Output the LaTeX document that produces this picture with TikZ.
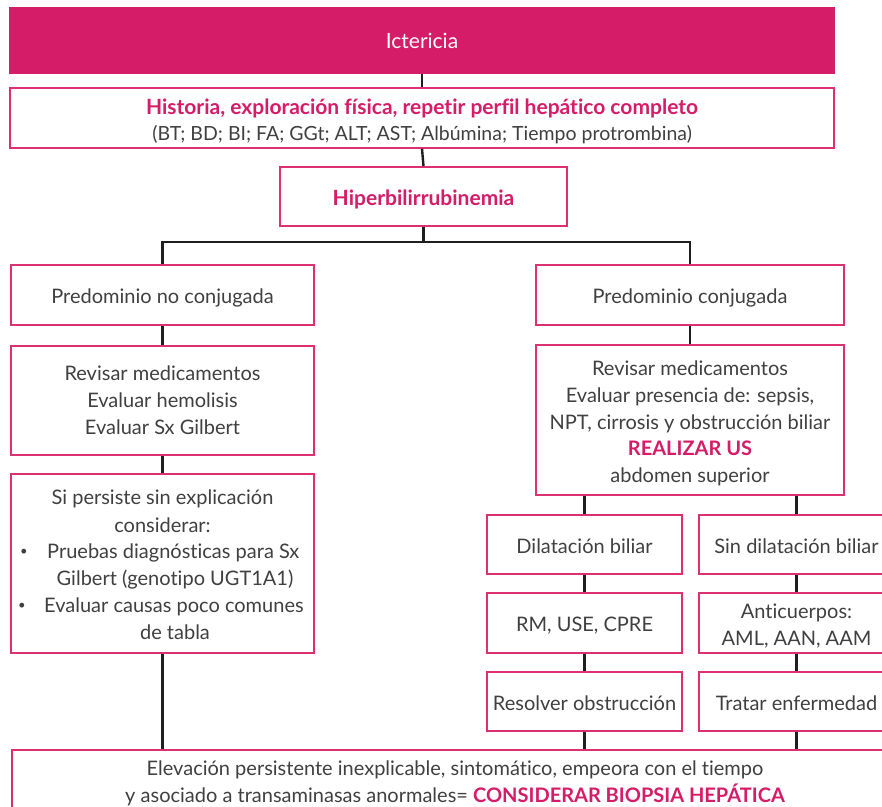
\documentclass[tikz,border=0pt]{standalone}
\usepackage{fontspec}
\setmainfont{Lato}[Ligatures={NoCommon,NoDiscretionary}]
\definecolor{mag}{HTML}{D51C68}
\definecolor{pinkb}{HTML}{DE2F73}
\definecolor{txt}{HTML}{404040}
\begin{document}
\begin{tikzpicture}[x=1pt,y=-1pt,
  box/.style={draw=pinkb, line width=1.6pt, fill=white, text=txt, align=center, inner sep=0pt,
    font=\fontsize{20}{26.8}\selectfont},
  sl/.style={text height=17pt, text depth=0pt},
  lbl/.style={text=txt, inner sep=0pt, align=center, font=\fontsize{20}{26.8}\selectfont},
  bul/.style={text=txt, inner sep=0pt, font=\fontsize{13}{14}\selectfont},
  conn/.style={draw=black!88, line width=2.4pt}]
\useasboundingbox (0,0) rectangle (882,806);
\fill[white] (0,0) rectangle (882,806);
\clip (0,0) rectangle (882,806);
% nodes
\node[box, fill=mag, draw=mag, text=white, minimum width=824, minimum height=65, font=\fontsize{21}{26}\selectfont] (ict) at (422,40.5) {Ictericia};
\node[box, minimum width=824, minimum height=60] (hist) at (422,118) {};
\node[lbl] (histt) at ([yshift=-3pt]hist.center)
  {{\color{mag}\fontsize{21}{26}\selectfont\bfseries Historia, exploración física, repetir perfil hepático completo}\\[-1pt]
   {\fontsize{19.5}{24}\selectfont(BT; BD; BI; FA; GGt; ALT; AST; Albúmina; Tiempo protrombina)}};
\node[box, sl, minimum width=287, minimum height=59, text=mag, font=\fontsize{21}{26}\selectfont\bfseries] (hiper) at (423.5,196.5) {Hiperbilirrubinemia};
\node[box, sl, minimum width=303, minimum height=60] (pnc) at (162.5,295) {Predominio no conjugada};
\node[box, sl, minimum width=308, minimum height=60] (pc) at (690,295) {Predominio conjugada};
\node[box, minimum width=303, minimum height=109] (rev1) at (162.5,400.5) {Revisar medicamentos\\Evaluar hemolisis\\Evaluar Sx Gilbert};
\node[box, minimum width=308, minimum height=150] (rev2) at (690,420) {};
\node[lbl] (rev2t) at ([yshift=-3.5pt]rev2.center)
  {Revisar medicamentos\\Evaluar presencia de: sepsis,\\NPT, cirrosis y obstrucción biliar\\{\color{mag}\bfseries REALIZAR US}\\abdomen superior};
\node[box, minimum width=303, minimum height=179] (si) at (162.5,563.5) {};
\node[lbl] (s1) at (162.5,498.5) {Si persiste sin explicación};
\node[lbl] (s2) at (162.5,525.5) {considerar:};
\node[bul] (b1) at (24,552) {•};
\node[lbl, anchor=west] (s3) at (47,552.5) {Pruebas diagnósticas para Sx};
\node[lbl] (s4) at (175,579.5) {Gilbert (genotipo UGT1A1)};
\node[bul] (b2) at (22,606) {•};
\node[lbl, anchor=west] (s5) at (44,606.5) {Evaluar causas poco comunes};
\node[lbl] (s6) at (175,632.5) {de tabla};
\node[box, sl, minimum width=195, minimum height=59] (dil) at (584.5,544.5) {Dilatación biliar};
\node[box, sl, minimum width=195, minimum height=59] (sdil) at (796.5,544.5) {Sin dilatación biliar};
\node[box, sl, minimum width=195, minimum height=60] (rm) at (584.5,623) {RM, USE, CPRE};
\node[box, minimum width=195, minimum height=60] (anti) at (796.5,623) {};
\node[lbl] (antit) at ([yshift=-3pt]anti.center) {Anticuerpos:\\AML, AAN, AAM};
\node[box, sl, minimum width=195, minimum height=59] (res) at (584.5,701.5) {Resolver obstrucción};
\node[box, sl, minimum width=195, minimum height=59] (trat) at (796.5,701.5) {Tratar enfermedad};
\node[box, minimum width=888, minimum height=80, anchor=north west] (bot) at (11,749) {};
\node[lbl] (e1) at (455,769.5) {Elevación persistente inexplicable, sintomático, empeora con el tiempo};
\node[lbl] (e2) at (455,795) {y asociado a transaminasas anormales= {\color{mag}\bfseries CONSIDERAR BIOPSIA HEPÁTICA}};
% connectors
\draw[conn] (ict.south) -- (hist.north);
\draw[conn] (hist.south) -- (hiper.north);
\draw[conn] (hiper.south) -- ++(0,15) coordinate (hj);
\draw[conn] (pnc.north) |- (hj) -| (pc.north);
\draw[conn] (pnc.south) -- (rev1.north);
\draw[conn] (rev1.south) -- (si.north);
\draw[conn] (si.south) -- (si.south |- bot.north);
\draw[conn] (pc.south) -- (rev2.north);
\draw[conn] (dil.north |- rev2.south) -- (dil.north);
\draw[conn] (sdil.north |- rev2.south) -- (sdil.north);
\draw[conn] (dil.south) -- (rm.north);
\draw[conn] (sdil.south) -- (anti.north);
\draw[conn] (rm.south) -- (res.north);
\draw[conn] (anti.south) -- (trat.north);
\draw[conn] (res.south) -- (res.south |- bot.north);
\draw[conn] (trat.south) -- (trat.south |- bot.north);
\end{tikzpicture}
\end{document}
